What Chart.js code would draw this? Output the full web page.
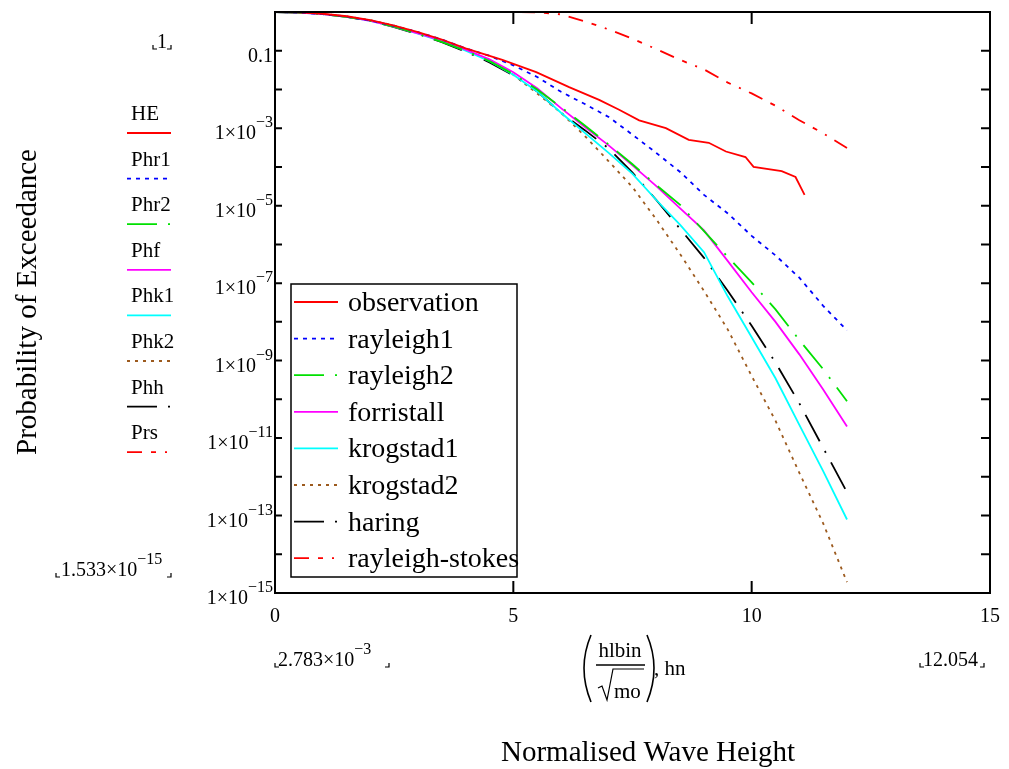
<!DOCTYPE html>
<html>
<head>
<meta charset="utf-8">
<script src="https://cdn.jsdelivr.net/npm/chart.js@4.4.1/dist/chart.umd.min.js"></script>
<style>
body{margin:0;background:#fff}
</style>
</head>
<body>
<canvas id="wave" width="1009" height="769"></canvas>
<script>
// normalised wave height grid of the model curves
var hn = [0,0.5,1,1.5,2,2.5,3,3.5,4,4.5,5,5.5,6,6.5,7,7.5,8,8.5,9,9.5,10,10.5,11,11.5,12]
var rayleigh1 = [1,0.966,0.881,0.759,0.603,0.437,0.302,0.195,0.115,7.4e-2,4.2e-2,2.1e-2,8.7e-3,4.2e-3,1.95e-3,6.8e-4,2.3e-4,7.4e-5,1.9e-5,6.3e-6,1.66e-6,5.2e-7,1.38e-7,2.6e-8,6.0e-9]
var rayleigh2 = [1,0.966,0.881,0.750,0.589,0.417,0.275,0.170,0.100,5.4e-2,2.5e-2,1.0e-2,3.5e-3,1.17e-3,3.8e-4,1.17e-4,3.4e-5,1.05e-5,2.2e-6,4.7e-7,1.05e-7,2.1e-8,3.4e-9,6.0e-10,8.9e-11]
var forristall = [1,0.966,0.881,0.759,0.589,0.417,0.282,0.182,0.107,6.0e-2,2.8e-2,1.07e-2,3.3e-3,1.07e-3,3.6e-4,1.1e-4,3.2e-5,8.5e-6,2.3e-6,3.7e-7,5.8e-8,1.0e-8,1.45e-9,1.8e-10,2.0e-11]
var krogstad1 = [1,0.966,0.881,0.759,0.589,0.417,0.275,0.174,0.100,5.4e-2,2.4e-2,8.9e-3,2.5e-3,7.6e-4,2.3e-4,6.6e-5,1.4e-5,3.2e-6,6.3e-7,4.5e-8,4.0e-9,3.5e-10,2.2e-11,1.4e-12,7.9e-14]
var krogstad2 = [1,0.966,0.891,0.776,0.617,0.447,0.295,0.186,0.107,5.5e-2,2.4e-2,7.9e-3,2.5e-3,6.3e-4,1.4e-4,3.0e-5,4.4e-6,5.6e-7,6.3e-8,6.3e-9,4.0e-10,2.8e-11,1.26e-12,6.3e-14,1.9e-15]
var haring = [1,0.966,0.881,0.750,0.589,0.407,0.269,0.166,9.5e-2,5.0e-2,2.3e-2,8.9e-3,2.5e-3,8.9e-4,3.0e-4,7.1e-5,1.4e-5,2.5e-6,4.5e-7,6.3e-8,7.9e-9,8.9e-10,7.9e-11,5.6e-12,4.0e-13]
var rayleighStokes = [1,1,1,1,1,1,1,1,0.999,0.997,0.99,0.98,0.87,0.575,0.355,0.204,0.110,5.8e-2,3.3e-2,1.5e-2,7.9e-3,3.8e-3,1.6e-3,7.4e-4,3.1e-4]

// observed exceedance (hlbin/sqrt(mo))
var obsX = [0.003,0.5,1,1.5,2,2.5,3,3.5,4,4.77,5.48,6.17,6.8,7.22,7.64,8.2,8.68,9.1,9.46,9.87,10.04,10.63,10.92,11.11]
var observation = [1,0.977,0.902,0.776,0.617,0.447,0.302,0.195,0.115,5.8e-2,2.8e-2,1.15e-2,5.4e-3,3.0e-3,1.6e-3,1.0e-3,5.0e-4,4.2e-4,2.5e-4,1.8e-4,1.0e-4,7.8e-5,5.5e-5,1.9e-5]

var labels = ['observation','rayleigh1','rayleigh2','forristall','krogstad1','krogstad2','haring','rayleigh-stokes']
var traceNames = ['HE','Phr1','Phr2','Phf','Phk1','Phk2','Phh','Prs']
var xTicks = [0,5,10,15]
var yLabelExp = [1,3,5,7,9,11,13,15]

var serif = '"Liberation Serif","Times New Roman",serif'
var colors = ['#ff0000','#0000ff','#00e000','#ff00ff','#00ffff','#9c5a1e','#000000','#ff0000']
var dashes = [[],[4,5],[30,11,2,11],[],[],[3,5],[30,11,2,11],[15,9,5,9,2,9]]

function pts(xs, ys){
    return xs.map(function(x,i){ return {x:x, y:ys[i]} })
}
var allY = [observation,rayleigh1,rayleigh2,forristall,krogstad1,krogstad2,haring,rayleighStokes]
var datasets = labels.map(function(l,i){
    return {
        label:l,
        data: i==0 ? pts(obsX, observation) : pts(hn, allY[i]),
        borderColor:colors[i],
        borderDash:dashes[i],
        borderWidth:1.8,
        pointRadius:0,
        fill:false,
        tension:0
    }
})

// mathcad style placeholder corners
function corners(ctx, x1, x2, y){
    ctx.beginPath()
    ctx.moveTo(x1, y-4); ctx.lineTo(x1, y); ctx.lineTo(x1+4, y)
    ctx.moveTo(x2-4, y); ctx.lineTo(x2, y); ctx.lineTo(x2, y-4)
    ctx.lineWidth = 1.2
    ctx.strokeStyle = '#000'
    ctx.stroke()
}
// "m x10^e" drawn from left x
function sciLeft(ctx, x, base, mant, exp, size, sup, rise){
    ctx.textAlign = 'left'
    ctx.font = size+'px '+serif
    ctx.fillText(mant, x, base)
    var w = ctx.measureText(mant).width
    ctx.font = sup+'px '+serif
    ctx.fillText(exp, x+w, base-rise)
    return x + w + ctx.measureText(exp).width
}

var deco = {
    id:'deco',
    afterDraw:function(chart){
        var ctx = chart.ctx
        var a = chart.chartArea
        var xs = chart.scales.x, ys = chart.scales.y
        ctx.save()
        ctx.fillStyle = '#000'
        ctx.textBaseline = 'alphabetic'

        // frame
        ctx.strokeStyle = '#000'
        ctx.lineWidth = 2
        ctx.strokeRect(a.left, a.top, a.right-a.left, a.bottom-a.top)
        ctx.beginPath()
        for(var e=1;e<15;e++){
            var yy = ys.getPixelForValue(Math.pow(10,-e))
            ctx.moveTo(a.left, yy); ctx.lineTo(a.left+7, yy)
            ctx.moveTo(a.right, yy); ctx.lineTo(a.right-9, yy)
        }
        for(var k=1;k<xTicks.length-1;k++){
            var xx = xs.getPixelForValue(xTicks[k])
            ctx.moveTo(xx, a.top); ctx.lineTo(xx, a.top+12)
            ctx.moveTo(xx, a.bottom); ctx.lineTo(xx, a.bottom-12)
        }
        ctx.stroke()

        // y tick labels
        yLabelExp.forEach(function(e){
            var yy = ys.getPixelForValue(Math.pow(10,-e)) + 11
            if(e==1){
                ctx.font = '20px '+serif
                ctx.textAlign = 'right'
                ctx.fillText('0.1', 273, yy)
            }else{
                ctx.font = '16px '+serif
                var ew = ctx.measureText('\u2212'+e).width
                ctx.font = '20px '+serif
                var mw = ctx.measureText('1\u00d710').width
                sciLeft(ctx, 273-ew-mw, yy, '1\u00d710', '\u2212'+e, 20, 16, 12)
            }
        })

        // legend inside plot
        var lx = 291, ly = 284, lw = 226, lh = 293
        ctx.fillStyle = '#fff'
        ctx.fillRect(lx, ly, lw, lh)
        ctx.lineWidth = 1.5
        ctx.strokeStyle = '#000'
        ctx.strokeRect(lx, ly, lw, lh)
        chart.data.datasets.forEach(function(d,i){
            var yy = 302 + i*36.6
            ctx.beginPath()
            ctx.setLineDash(d.borderDash)
            ctx.strokeStyle = d.borderColor
            ctx.lineWidth = 1.8
            ctx.moveTo(294, yy); ctx.lineTo(338, yy)
            ctx.stroke()
            ctx.setLineDash([])
            ctx.fillStyle = '#000'
            ctx.font = '28px '+serif
            ctx.textAlign = 'left'
            ctx.fillText(d.label, 348, yy+9)
        })

        // trace names on the left
        chart.data.datasets.forEach(function(d,i){
            var yy = 133 + i*45.6
            ctx.fillStyle = '#000'
            ctx.font = '21px '+serif
            ctx.textAlign = 'left'
            ctx.fillText(traceNames[i], 131, yy-13)
            ctx.beginPath()
            ctx.setLineDash(d.borderDash)
            ctx.strokeStyle = d.borderColor
            ctx.lineWidth = 1.8
            ctx.moveTo(127, yy); ctx.lineTo(171, yy)
            ctx.stroke()
            ctx.setLineDash([])
        })

        // axis limit placeholders
        ctx.fillStyle = '#000'
        ctx.font = '20px '+serif
        ctx.textAlign = 'left'
        ctx.fillText('1', 157, 48)
        corners(ctx, 153, 171, 49)
        sciLeft(ctx, 61, 576, '1.533\u00d710', '\u221215', 20, 16, 12)
        corners(ctx, 56, 171, 577)
        sciLeft(ctx, 278, 666, '2.783\u00d710', '\u22123', 20, 16, 12)
        corners(ctx, 275, 389, 667)
        ctx.font = '20px '+serif
        ctx.fillText('12.054', 923, 666)
        corners(ctx, 920, 984, 667)

        // x expression (hlbin / sqrt(mo)), hn
        ctx.strokeStyle = '#000'
        ctx.lineWidth = 1.6
        ctx.beginPath()
        ctx.moveTo(591, 635); ctx.quadraticCurveTo(577, 668, 591, 702)
        ctx.moveTo(647, 635); ctx.quadraticCurveTo(661, 668, 647, 702)
        ctx.stroke()
        ctx.font = '21px '+serif
        ctx.textAlign = 'center'
        ctx.fillText('hlbin', 620, 657)
        ctx.beginPath()
        ctx.lineWidth = 1.5
        ctx.moveTo(596, 665); ctx.lineTo(645, 665)
        ctx.stroke()
        ctx.beginPath()
        ctx.lineWidth = 1.2
        ctx.moveTo(598, 688); ctx.lineTo(602, 686); ctx.lineTo(607, 700); ctx.lineTo(613, 669); ctx.lineTo(644, 669)
        ctx.stroke()
        ctx.textAlign = 'left'
        ctx.fillText('mo', 614, 698)
        ctx.fillText(', hn', 654, 675)

        // axis titles
        ctx.font = '29px '+serif
        ctx.textAlign = 'center'
        ctx.fillText('Normalised Wave Height', 648, 761)
        ctx.translate(36, 302)
        ctx.rotate(-Math.PI/2)
        ctx.fillText('Probability of Exceedance', 0, 0)
        ctx.restore()
    }
}

var chart = new Chart(document.getElementById('wave').getContext('2d'), {
    type:'line',
    data:{datasets:datasets},
    plugins:[deco],
    options:{
        responsive:false,
        devicePixelRatio:1,
        animation:false,
        layout:{padding:{top:12,right:19,left:0,bottom:0}},
        plugins:{legend:{display:false}, tooltip:{enabled:false}},
        scales:{
            x:{
                type:'linear', min:0, max:15,
                afterBuildTicks:function(s){ s.ticks = xTicks.map(function(v){ return {value:v} }) },
                afterFit:function(s){ s.height = 176; s.paddingLeft = 0; s.paddingRight = 0 },
                grid:{display:false, drawTicks:false},
                border:{display:false},
                ticks:{color:'#000', padding:12, maxRotation:0, font:{family:serif, size:20}}
            },
            y:{
                type:'logarithmic', min:1e-15, max:1,
                afterFit:function(s){ s.width = 275 },
                grid:{display:false},
                border:{display:false},
                ticks:{display:false}
            }
        }
    }
})
</script>
</body>
</html>
